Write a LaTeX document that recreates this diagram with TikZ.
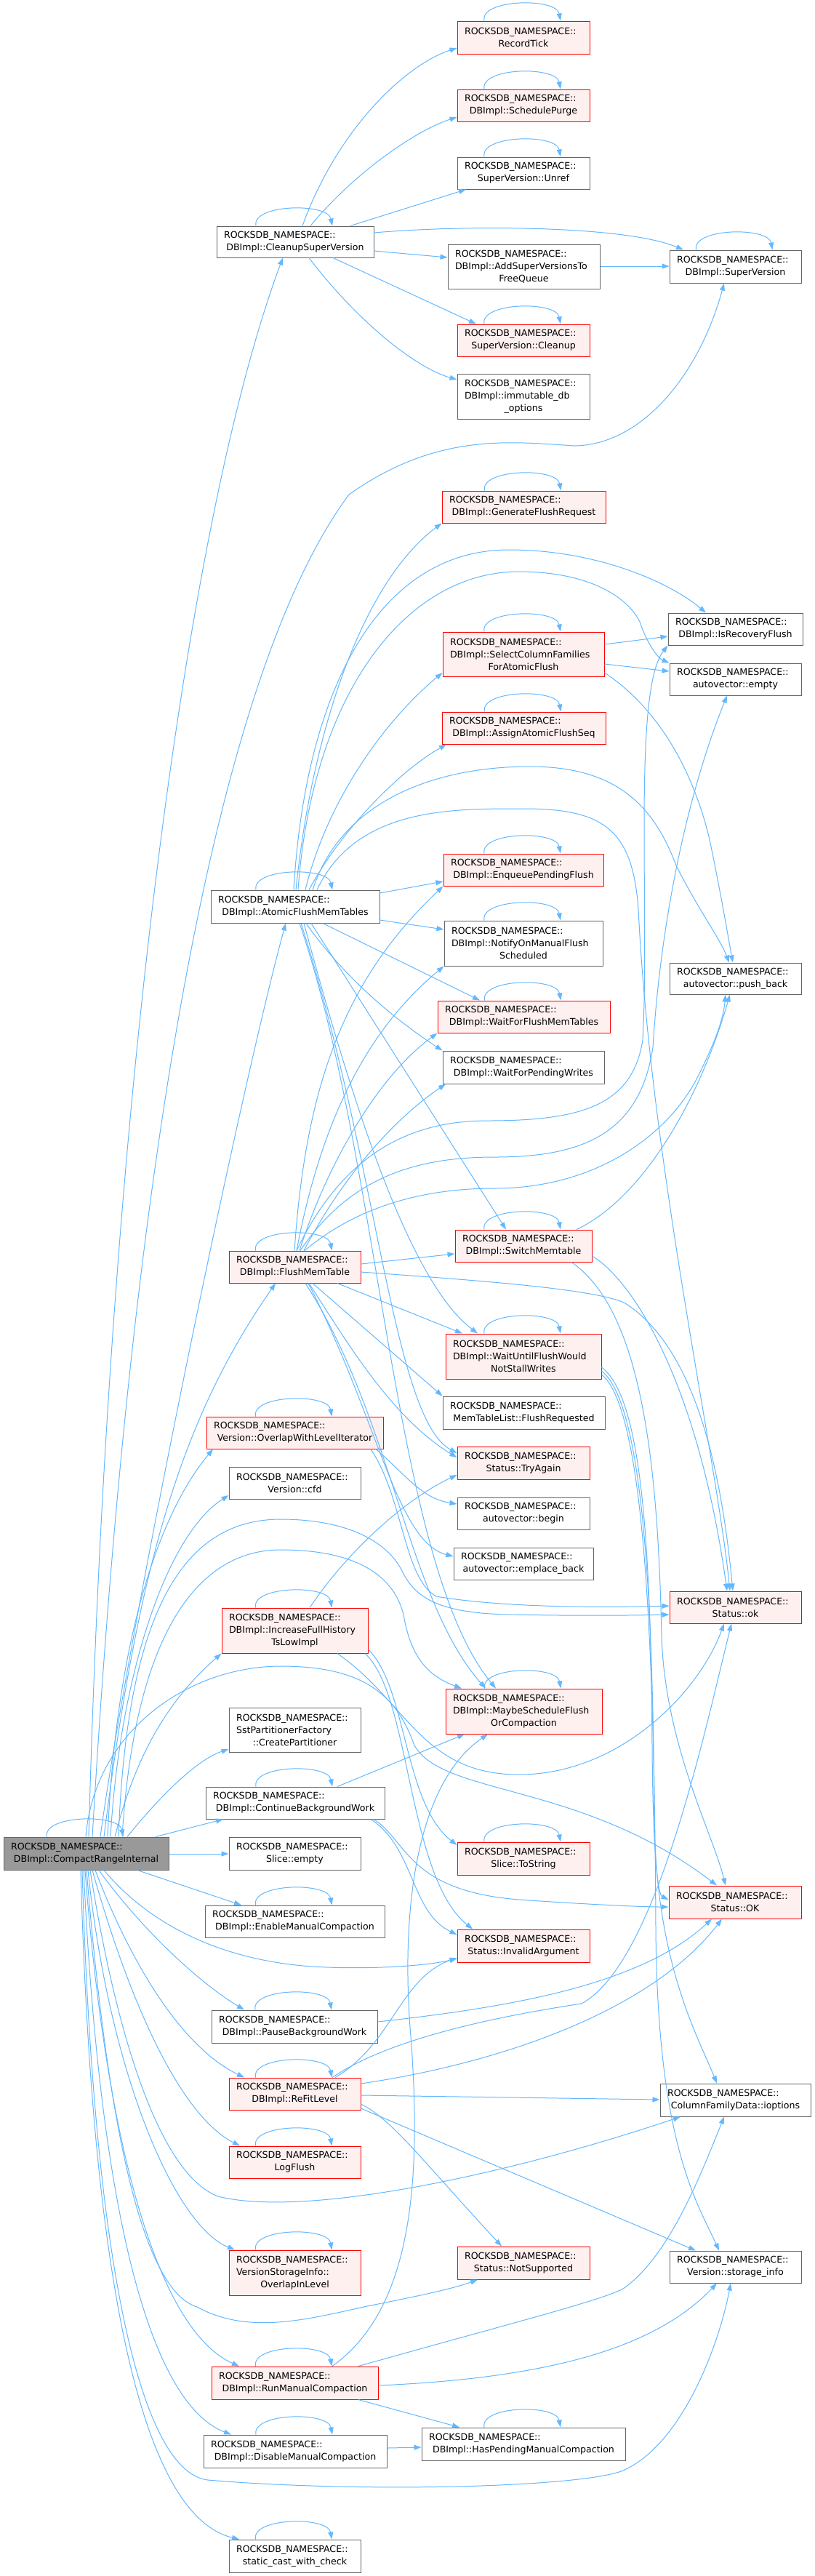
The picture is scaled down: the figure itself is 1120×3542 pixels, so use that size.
\documentclass[tikz,border=0pt]{standalone}
\usepackage{fontspec}
\setmainfont[HyphenChar=None]{DejaVu Sans}
\usetikzlibrary{arrows.meta}
\definecolor{eblue}{HTML}{63B8FF}
\definecolor{rfill}{HTML}{FFF0F0}
\definecolor{gbord}{HTML}{666666}
\definecolor{rootfill}{HTML}{999999}
\newcommand{\rns}{ROCKSDB\_NAMESPACE::}
\newcommand{\ctr}[1]{\makebox[\ndtw pt][c]{#1}}
\newcommand{\mynode}[7]{%
 \pgfmathsetmacro\ndw{#4-#2}\pgfmathsetmacro\ndh{#5-#3}\pgfmathsetmacro\ndtw{#4-#2-20}%
 \pgfmathsetmacro\ndx{(#2+#4)/2}\pgfmathsetmacro\ndy{(#3+#5)/2}%
 \node[#6, minimum width=\ndw pt, minimum height=\ndh pt, text width=\ndtw pt] (#1) at (\ndx,\ndy) {#7};}
\newcommand{\lp}[1]{\draw[cl] ([xshift=-54pt]#1.north) .. controls +(-6,-30) and +(-6,-32) .. ([xshift=51pt]#1.north);}
\begin{document}
\begin{tikzpicture}[x=1pt,y=-1pt,font=\fontsize{12.6}{17}\selectfont,
  base/.style={rectangle, inner xsep=10pt, inner ysep=0pt, align=left, line width=1pt},
  wn/.style={base, draw=gbord, fill=white},
  rn/.style={base, draw=red, fill=rfill},
  gn/.style={base, draw=gbord, fill=rootfill},
  cl/.style={draw=eblue, line width=1pt, -{Triangle[length=10pt,width=7pt]}}]
\fill[white] (0,0) rectangle (1120,3542);
\useasboundingbox (0,0) rectangle (1120,3542);

\mynode{recordtick}{629}{29}{811}{74}{rn}{\rns\\\ctr{RecordTick}}
\mynode{schedpurge}{629}{123}{811}{167}{rn}{\rns\\\ctr{DBImpl::SchedulePurge}}
\mynode{unref}{629}{216}{811}{260}{wn}{\rns\\\ctr{SuperVersion::Unref}}
\mynode{cleanupsv}{298}{311}{514}{354}{wn}{\rns\\\ctr{DBImpl::CleanupSuperVersion}}
\mynode{addsv}{616}{336}{825}{397}{wn}{\rns\\DBImpl::AddSuperVersionsTo\\\ctr{FreeQueue}}
\mynode{superversion}{921}{344}{1102}{389}{wn}{\rns\\\ctr{DBImpl::SuperVersion}}
\mynode{svcleanup}{629}{446}{811}{490}{rn}{\rns\\\ctr{SuperVersion::Cleanup}}
\mynode{immut}{629}{514}{811}{576}{wn}{\rns\\DBImpl::immutable\_db\\\ctr{\_options}}
\mynode{genflush}{608}{675}{833}{719}{rn}{\rns\\\ctr{DBImpl::GenerateFlushRequest}}
\mynode{isrecovery}{919}{843}{1104}{887}{wn}{\rns\\\ctr{DBImpl::IsRecoveryFlush}}
\mynode{selectcf}{609}{869}{831}{930}{rn}{\rns\\DBImpl::SelectColumnFamilies\\\ctr{ForAtomicFlush}}
\mynode{avempty}{921}{912}{1102}{956}{wn}{\rns\\\ctr{autovector::empty}}
\mynode{assignseq}{608}{979}{833}{1023}{rn}{\rns\\\ctr{DBImpl::AssignAtomicFlushSeq}}
\mynode{enqueue}{610}{1174}{830}{1218}{rn}{\rns\\\ctr{DBImpl::EnqueuePendingFlush}}
\mynode{atomicflush}{290}{1224}{522}{1269}{wn}{\rns\\\ctr{DBImpl::AtomicFlushMemTables}}
\mynode{notify}{611}{1266}{829}{1328}{wn}{\rns\\DBImpl::NotifyOnManualFlush\\\ctr{Scheduled}}
\mynode{pushback}{921}{1324}{1102}{1367}{wn}{\rns\\\ctr{autovector::push\_back}}
\mynode{waitflushmem}{602}{1376}{839}{1420}{rn}{\rns\\\ctr{DBImpl::WaitForFlushMemTables}}
\mynode{waitpending}{609}{1445}{831}{1490}{wn}{\rns\\\ctr{DBImpl::WaitForPendingWrites}}
\mynode{switchmem}{626}{1691}{814}{1735}{rn}{\rns\\\ctr{DBImpl::SwitchMemtable}}
\mynode{flushmem}{315}{1720}{496}{1764}{rn}{\rns\\\ctr{DBImpl::FlushMemTable}}
\mynode{waituntil}{613}{1834}{827}{1896}{rn}{\rns\\DBImpl::WaitUntilFlushWould\\\ctr{NotStallWrites}}
\mynode{flushreq}{609}{1920}{832}{1965}{wn}{\rns\\\ctr{MemTableList::FlushRequested}}
\mynode{overlapiter}{284}{1948}{527}{1992}{rn}{\rns\\\ctr{Version::OverlapWithLevelIterator}}
\mynode{tryagain}{629}{1989}{811}{2034}{rn}{\rns\\\ctr{Status::TryAgain}}
\mynode{vcfd}{315}{2017}{496}{2061}{wn}{\rns\\\ctr{Version::cfd}}
\mynode{avbegin}{629}{2059}{811}{2103}{wn}{\rns\\\ctr{autovector::begin}}
\mynode{emplace}{624}{2128}{816}{2172}{wn}{\rns\\\ctr{autovector::emplace\_back}}
\mynode{statusok}{921}{2188}{1102}{2232}{rn}{\rns\\\ctr{Status::ok}}
\mynode{increasets}{305}{2211}{506}{2273}{rn}{\rns\\DBImpl::IncreaseFullHistory\\\ctr{TsLowImpl}}
\mynode{maybesched}{613}{2322}{828}{2384}{rn}{\rns\\DBImpl::MaybeScheduleFlush\\\ctr{OrCompaction}}
\mynode{sstpart}{315}{2348}{496}{2409}{wn}{\rns\\SstPartitionerFactory\\\ctr{::CreatePartitioner}}
\mynode{contbg}{283}{2457}{529}{2501}{wn}{\rns\\\ctr{DBImpl::ContinueBackgroundWork}}
\mynode{slicetostr}{629}{2533}{811}{2578}{rn}{\rns\\\ctr{Slice::ToString}}
\mynode{cri}{5}{2526}{232}{2571}{gn}{\rns\\\ctr{DBImpl::CompactRangeInternal}}
\mynode{sliceempty}{315}{2526}{496}{2571}{wn}{\rns\\\ctr{Slice::empty}}
\mynode{statusOK}{920}{2593}{1102}{2638}{rn}{\rns\\\ctr{Status::OK}}
\mynode{enablemc}{282}{2620}{529}{2664}{wn}{\rns\\\ctr{DBImpl::EnableManualCompaction}}
\mynode{invalidarg}{629}{2653}{811}{2698}{rn}{\rns\\\ctr{Status::InvalidArgument}}
\mynode{pausebg}{291}{2764}{519}{2809}{wn}{\rns\\\ctr{DBImpl::PauseBackgroundWork}}
\mynode{refit}{315}{2857}{496}{2901}{rn}{\rns\\\ctr{DBImpl::ReFitLevel}}
\mynode{ioptions}{908}{2865}{1115}{2910}{wn}{\rns\\\ctr{ColumnFamilyData::ioptions}}
\mynode{logflush}{315}{2951}{496}{2995}{rn}{\rns\\\ctr{LogFlush}}
\mynode{vsioverlap}{315}{3094}{496}{3156}{rn}{\rns\\VersionStorageInfo::\\\ctr{OverlapInLevel}}
\mynode{notsupported}{629}{3089}{811}{3134}{rn}{\rns\\\ctr{Status::NotSupported}}
\mynode{storageinfo}{921}{3095}{1102}{3139}{wn}{\rns\\\ctr{Version::storage\_info}}
\mynode{runmc}{291}{3254}{520}{3299}{rn}{\rns\\\ctr{DBImpl::RunManualCompaction}}
\mynode{disablemc}{280}{3348}{532}{3393}{wn}{\rns\\\ctr{DBImpl::DisableManualCompaction}}
\mynode{haspending}{580}{3338}{860}{3383}{wn}{\rns\\\ctr{DBImpl::HasPendingManualCompaction}}
\mynode{staticcast}{315}{3492}{496}{3537}{wn}{\rns\\\ctr{static\_cast\_with\_check}}

% CleanupSuperVersion
\draw[cl] (416,0 |- cleanupsv.north) .. controls (465,175) and (560,88) .. (recordtick.west |- 0,66);
\draw[cl] (427,0 |- cleanupsv.north) .. controls (485,240) and (570,180) .. (schedpurge.west |- 0,161);
\draw[cl] (482,0 |- cleanupsv.north) -- (641,0 |- unref.south);
\draw[cl] (cleanupsv.east |- 0,320) .. controls (640,309) and (860,310) .. (940,0 |- superversion.north);
\draw[cl] (cleanupsv.east |- 0,345) -- (addsv.west |- 0,354);
\draw[cl] (458,0 |- cleanupsv.south) -- (655,0 |- svcleanup.north);
\draw[cl] (425,0 |- cleanupsv.south) .. controls (490,440) and (570,505) .. (immut.west |- 0,522);
\draw[cl] (addsv.east |- 0,366) -- (superversion.west |- 0,366);

% CompactRangeInternal
\draw[cl] (122,0 |- cri.north) .. controls (150,1500) and (260,700) .. (389,0 |- cleanupsv.south);
\draw[cl] (127,0 |- cri.north) .. controls (175,1700) and (280,950) .. (480,680) .. controls (600,595) and (700,607) .. (790,613) .. controls (880,612) and (960,520) .. (996,0 |- superversion.south);
\draw[cl] (138,0 |- cri.north) .. controls (175,2250) and (330,1500) .. (393,0 |- atomicflush.south);
\draw[cl] (143,0 |- cri.north) .. controls (190,2150) and (250,1950) .. (379,0 |- flushmem.south);
\draw[cl] (148,0 |- cri.north) .. controls (160,2250) and (220,2080) .. (293,0 |- overlapiter.south);
\draw[cl] (152,0 |- cri.north) .. controls (165,2300) and (230,2110) .. (vcfd.west |- 0,2056);
\draw[cl] (158,0 |- cri.north) .. controls (190,2400) and (240,2330) .. (increasets.south west);
\draw[cl] (163,0 |- cri.north) .. controls (175,2200) and (260,2089) .. (386,2089) .. controls (470,2089) and (530,2115) .. (553,2160) .. controls (570,2195) and (600,2218) .. (700,2220) .. controls (800,2222) and (880,2221) .. (statusok.west |- 0,2220);
\draw[cl] (168,0 |- cri.north) .. controls (185,2250) and (270,2131) .. (386,2131) .. controls (480,2131) and (540,2160) .. (555,2220) .. controls (565,2280) and (590,2305) .. (635,0 |- maybesched.north);
\draw[cl] (118,0 |- cri.north) .. controls (130,2380) and (260,2291) .. (386,2291) .. controls (500,2291) and (545,2330) .. (570,2400) .. controls (610,2470) and (800,2450) .. (986,0 |- statusOK.north);
\draw[cl] (175,0 |- cri.north) .. controls (220,2470) and (270,2420) .. (sstpart.west |- 0,2405);
\draw[cl] (214,0 |- cri.north) -- (307,0 |- contbg.south);
\draw[cl] (cri.east |- 0,2549) -- (sliceempty.west |- 0,2549);
\draw[cl] (189,0 |- cri.south) -- (332,0 |- enablemc.north);
\draw[cl] (143,0 |- cri.south) .. controls (200,2640) and (300,2700) .. (450,2705) .. controls (540,2708) and (600,2700) .. (invalidarg.west |- 0,2693);
\draw[cl] (136,0 |- cri.south) .. controls (200,2660) and (280,2730) .. (336,0 |- pausebg.north);
\draw[cl] (131,0 |- cri.south) .. controls (180,2700) and (250,2815) .. (336,0 |- refit.north);
\draw[cl] (127,0 |- cri.south) .. controls (180,2760) and (250,2910) .. (330,0 |- logflush.north);
\draw[cl] (124,0 |- cri.south) .. controls (160,2800) and (220,2990) .. (300,3020) .. controls (420,3050) and (700,2990) .. (936,0 |- ioptions.south);
\draw[cl] (121,0 |- cri.south) .. controls (150,2850) and (240,3060) .. (323,0 |- vsioverlap.north);
\draw[cl] (119,0 |- cri.south) .. controls (150,2950) and (200,3150) .. (271,3172) .. controls (340,3210) and (420,3190) .. (500,3172) .. controls (570,3158) and (620,3148) .. (657,0 |- notsupported.south);
\draw[cl] (117,0 |- cri.south) .. controls (150,3000) and (230,3210) .. (329,0 |- runmc.north);
\draw[cl] (115,0 |- cri.south) .. controls (140,3100) and (220,3310) .. (318,0 |- disablemc.north);
\draw[cl] (113,0 |- cri.south) .. controls (130,3150) and (200,3400) .. (286,3410) .. controls (500,3428) and (800,3420) .. (857,3397) .. controls (940,3360) and (990,3220) .. (1005,0 |- storageinfo.south);
\draw[cl] (111,0 |- cri.south) .. controls (130,3250) and (220,3465) .. (329,0 |- staticcast.north);

% AtomicFlushMemTables
\draw[cl] (407,0 |- atomicflush.north) .. controls (430,1000) and (500,800) .. (genflush.south west);
\draw[cl] (404,0 |- atomicflush.north) .. controls (420,950) and (520,756) .. (700,756) .. controls (820,756) and (920,800) .. (971,0 |- isrecovery.north);
\draw[cl] (410,0 |- atomicflush.north) .. controls (430,950) and (560,786) .. (714,786) .. controls (800,786) and (860,815) .. (880,855) .. controls (890,885) and (905,905) .. (avempty.north west);
\draw[cl] (420,0 |- atomicflush.north) .. controls (450,1100) and (530,990) .. (selectcf.west |- 0,925);
\draw[cl] (425,0 |- atomicflush.north) .. controls (470,1140) and (550,1060) .. (614,0 |- assignseq.south);
\draw[cl] (430,0 |- atomicflush.north) .. controls (470,1100) and (600,1054) .. (729,1054) .. controls (850,1054) and (900,1110) .. (930,1190) .. controls (960,1250) and (990,1290) .. (1003,0 |- pushback.north);
\draw[cl] (436,0 |- atomicflush.north) .. controls (490,1110) and (620,1112) .. (720,1112) .. controls (830,1112) and (870,1140) .. (878,1250) .. controls (895,1600) and (985,2000) .. (1004,0 |- statusok.north);
\draw[cl] (atomicflush.east |- 0,1228) -- (enqueue.west |- 0,1212);
\draw[cl] (atomicflush.east |- 0,1265) -- (notify.west |- 0,1278);
\draw[cl] (444,0 |- atomicflush.south) -- (660,0 |- waitflushmem.north);
\draw[cl] (421,0 |- atomicflush.south) .. controls (470,1340) and (540,1400) .. (waitpending.north west);
\draw[cl] (428,0 |- atomicflush.south) -- (696,0 |- switchmem.north);
\draw[cl] (418,0 |- atomicflush.south) .. controls (480,1500) and (560,1760) .. (657,0 |- waituntil.north);
\draw[cl] (414,0 |- atomicflush.south) .. controls (520,1600) and (540,1950) .. (tryagain.west |- 0,1998);
\draw[cl] (412,0 |- atomicflush.south) .. controls (525,1600) and (540,2150) .. (682,0 |- maybesched.north);

% FlushMemTable
\draw[cl] (405,0 |- flushmem.north) .. controls (420,1500) and (470,1350) .. (enqueue.south west);
\draw[cl] (408,0 |- flushmem.north) .. controls (440,1550) and (500,1420) .. (notify.south west);
\draw[cl] (412,0 |- flushmem.north) .. controls (450,1600) and (520,1480) .. (waitflushmem.south west);
\draw[cl] (418,0 |- flushmem.north) .. controls (470,1620) and (540,1540) .. (613,0 |- waitpending.south);
\draw[cl] (408,0 |- flushmem.north) .. controls (470,1590) and (560,1541) .. (670,1541) .. controls (800,1541) and (870,1520) .. (884,1430) .. controls (894,1250) and (870,950) .. (isrecovery.south west);
\draw[cl] (413,0 |- flushmem.north) .. controls (480,1620) and (570,1591) .. (680,1591) .. controls (800,1591) and (880,1560) .. (898,1440) .. controls (910,1250) and (950,1080) .. (1000,0 |- avempty.south);
\draw[cl] (419,0 |- flushmem.north) .. controls (490,1660) and (580,1634) .. (680,1634) .. controls (820,1634) and (920,1560) .. (960,1480) .. controls (985,1430) and (995,1400) .. (998,0 |- pushback.south);
\draw[cl] (flushmem.east |- 0,1738) -- (switchmem.west |- 0,1724);
\draw[cl] (flushmem.east |- 0,1749) .. controls (650,1760) and (820,1772) .. (860,1792) .. controls (950,1850) and (990,2000) .. (1008,0 |- statusok.north);
\draw[cl] (464,0 |- flushmem.south) -- (636,0 |- waituntil.north);
\draw[cl] (430,0 |- flushmem.south) -- (flushreq.north west);
\draw[cl] (425,0 |- flushmem.south) .. controls (480,1850) and (540,1950) .. (tryagain.west |- 0,2004);
\draw[cl] (424,0 |- flushmem.south) .. controls (520,1950) and (545,2120) .. (emplace.west |- 0,2140);
\draw[cl] (420,0 |- flushmem.south) .. controls (540,1950) and (560,2200) .. (668,0 |- maybesched.north);

% SwitchMemtable
\draw[cl] (793,0 |- switchmem.north) .. controls (880,1650) and (960,1520) .. (1004,0 |- pushback.south);
\draw[cl] (switchmem.east |- 0,1727) .. controls (870,1760) and (960,1900) .. (1000,0 |- statusok.north);
\draw[cl] (786,0 |- switchmem.south) .. controls (880,1800) and (905,2000) .. (910,2250) .. controls (915,2400) and (980,2520) .. (998,0 |- statusOK.north);

% WaitUntilFlushWouldNotStallWrites
\draw[cl] (waituntil.east |- 0,1880) .. controls (880,1920) and (895,2100) .. (897,2400) .. controls (898,2550) and (905,2605) .. (statusOK.west |- 0,2612);
\draw[cl] (waituntil.east |- 0,1885) .. controls (885,1930) and (898,2200) .. (900,2500) .. controls (902,2700) and (960,2800) .. (986,0 |- ioptions.north);
\draw[cl] (waituntil.east |- 0,1890) .. controls (890,1940) and (900,2300) .. (902,2650) .. controls (904,2950) and (960,3030) .. (989,0 |- storageinfo.north);

% SelectColumnFamiliesForAtomicFlush
\draw[cl] (selectcf.east |- 0,886) -- (isrecovery.west |- 0,875);
\draw[cl] (selectcf.east |- 0,913) -- (avempty.west |- 0,923);
\draw[cl] (selectcf.east |- 0,925) .. controls (900,970) and (950,1050) .. (975,1150) .. controls (990,1220) and (1000,1280) .. (1008,0 |- pushback.north);

% OverlapWithLevelIterator
\draw[cl] (517,0 |- overlapiter.south) .. controls (560,2030) and (580,2060) .. (avbegin.west |- 0,2068);
\draw[cl] (510,0 |- overlapiter.south) .. controls (555,2060) and (555,2170) .. (600,2195) .. controls (700,2212) and (850,2210) .. (statusok.west |- 0,2208);

% IncreaseFullHistoryTsLowImpl
\draw[cl] (426,0 |- increasets.north) .. controls (480,2130) and (560,2060) .. (tryagain.west |- 0,2028);
\draw[cl] (increasets.east |- 0,2268) .. controls (560,2320) and (555,2480) .. (slicetostr.west |- 0,2537);
\draw[cl] (502,0 |- increasets.south) .. controls (565,2330) and (560,2580) .. (650,0 |- invalidarg.north);
\draw[cl] (464,0 |- increasets.south) .. controls (560,2340) and (580,2440) .. (714,2440) .. controls (850,2440) and (960,2330) .. (996,0 |- statusok.south);

% ContinueBackgroundWork
\draw[cl] (464,0 |- contbg.north) -- (639,0 |- maybesched.south);
\draw[cl] (514,0 |- contbg.south) .. controls (560,2530) and (560,2600) .. (714,2612) .. controls (800,2618) and (880,2622) .. (statusOK.west |- 0,2622);
\draw[cl] (510,0 |- contbg.south) .. controls (570,2540) and (565,2630) .. (invalidarg.west |- 0,2660);

% PauseBackgroundWork
\draw[cl] (pausebg.east |- 0,2780) .. controls (700,2760) and (880,2730) .. (979,0 |- statusOK.south);

% ReFitLevel
\draw[cl] (457,0 |- refit.north) .. controls (540,2800) and (700,2770) .. (800,2755) .. controls (900,2700) and (965,2400) .. (1006,0 |- statusok.south);
\draw[cl] (461,0 |- refit.north) .. controls (540,2810) and (550,2720) .. (invalidarg.west |- 0,2692);
\draw[cl] (refit.east |- 0,2865) .. controls (700,2835) and (900,2760) .. (993,0 |- statusOK.south);
\draw[cl] (refit.east |- 0,2881) -- (ioptions.west |- 0,2887);
\draw[cl] (refit.east |- 0,2899) -- (957,0 |- storageinfo.north);
\draw[cl] (refit.east |- 0,2893) .. controls (540,2915) and (580,2970) .. (690,0 |- notsupported.north);

% RunManualCompaction
\draw[cl] (457,0 |- runmc.north) .. controls (560,3180) and (582,3020) .. (565,2800) .. controls (550,2620) and (575,2450) .. (671,0 |- maybesched.south);
\draw[cl] (493,0 |- runmc.north) .. controls (700,3195) and (840,3160) .. (860,3145) .. controls (920,3100) and (960,3000) .. (996,0 |- ioptions.south);
\draw[cl] (runmc.east |- 0,3280) .. controls (750,3270) and (900,3230) .. (986,0 |- storageinfo.south);
\draw[cl] (493,0 |- runmc.south) -- (632,0 |- haspending.north);

% DisableManualCompaction
\draw[cl] (disablemc.east |- 0,3366) -- (haspending.west |- 0,3365);

% self loops
\lp{recordtick}\lp{schedpurge}\lp{unref}\lp{cleanupsv}\lp{superversion}\lp{svcleanup}
\lp{genflush}\lp{selectcf}\lp{assignseq}\lp{enqueue}\lp{atomicflush}\lp{notify}
\lp{waitflushmem}\lp{switchmem}\lp{flushmem}\lp{waituntil}\lp{overlapiter}\lp{increasets}
\lp{maybesched}\lp{contbg}\lp{slicetostr}\lp{cri}\lp{enablemc}\lp{pausebg}\lp{refit}
\lp{logflush}\lp{vsioverlap}\lp{runmc}\lp{disablemc}\lp{haspending}\lp{staticcast}
\end{tikzpicture}
\end{document}
